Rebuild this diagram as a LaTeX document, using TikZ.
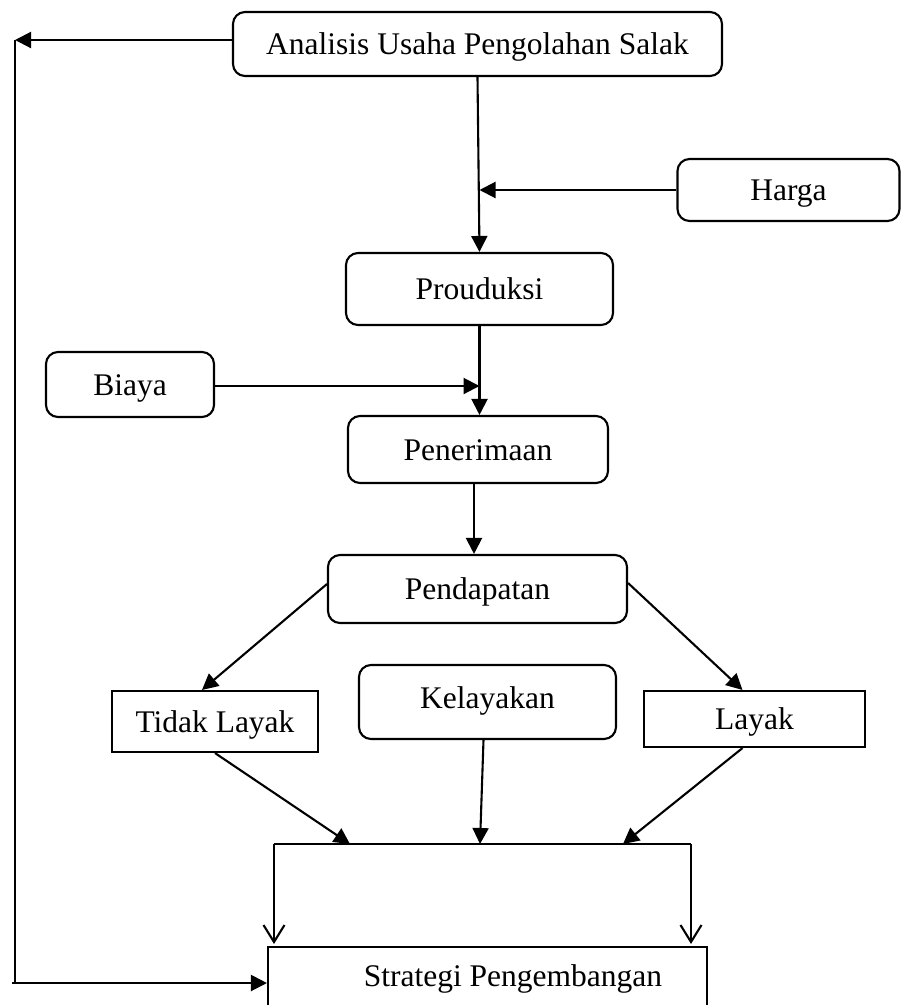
\documentclass[tikz,border=0pt]{standalone}
\usepackage{fontspec}
\setmainfont{Liberation Serif}
\usetikzlibrary{arrows.meta}
\begin{document}
\begin{tikzpicture}[x=1pt,y=-1pt,
  every node/.style={font=\fontsize{31.5}{36}\selectfont, inner sep=0pt, text height=21pt, text depth=0pt},
  rbox/.style={draw, line width=2.1pt, rounded corners=12pt},
  sbox/.style={draw, line width=2.1pt},
  conn/.style={line width=2.1pt},
  arr/.style={conn, -{Triangle[length=16pt,width=16pt]}},
  openarr/.style={conn, -{Straight Barb[length=17pt,width=21pt,line width=2.1pt]}}]
\clip (0,0) rectangle (901,1005);
\fill[white] (0,0) rectangle (901,1005);

\node[rbox, minimum width=489pt, minimum height=64pt] (ana) at (477.5,44) {Analisis Usaha Pengolahan Salak};
\node[rbox, minimum width=222pt, minimum height=62pt] (harga) at (788.5,190) {Harga};
\node[rbox, minimum width=267pt, minimum height=72pt] (prod) at (479.5,289) {Prouduksi};
\node[rbox, minimum width=168pt, minimum height=65pt] (biaya) at (130,384.5) {Biaya};
\node[rbox, minimum width=260pt, minimum height=67pt] (pen) at (478,449.5) {Penerimaan};
\node[rbox, minimum width=299pt, minimum height=68pt] (pend) at (477.5,589) {Pendapatan};
\node[sbox, minimum width=206pt, minimum height=61pt] (tidak) at (215,721.5) {Tidak Layak};
\node[rbox, minimum width=257pt, minimum height=74pt] (kel) at (487.5,702) {\raisebox{4.5pt}{Kelayakan}};
\node[sbox, minimum width=439pt, minimum height=62pt] (strat) at (487.5,978) {\raisebox{2pt}{\hspace*{51pt}Strategi Pengembangan}};
\node[sbox, minimum width=221pt, minimum height=56pt] (layak) at (754.5,719) {Layak};

% left feedback path
\coordinate (tl) at (15,40);
\coordinate (bl) at (15,983);
\coordinate (blx) at (12,983);
\draw[arr] ([yshift=4pt]ana.west) -- (tl);
\draw[conn] (tl) -- (bl);
\draw[arr] (blx) -- (strat.west |- blx);

% main flow
\draw[arr] (ana.south) -- (prod.north);
\draw[arr] (harga.west) -- (harga.west -| prod.north);
\draw[arr] (prod.south) -- (prod.south |- pen.north);
\draw[arr] (biaya.east |- 0,386) -- (prod.south |- 0,386);
\draw[arr] ([xshift=-4pt]pen.south) -- ([xshift=-3.5pt]pend.north);
\draw[arr] ([yshift=5pt]pend.west) -- ([xshift=-13pt]tidak.north);
\draw[arr] ([yshift=6pt]pend.east) -- ([xshift=-12pt]layak.north);

% collector bar
\coordinate (b1) at (274,844);
\coordinate (b2) at (691,844);
\coordinate (t1) at (350,844);
\coordinate (t2) at (480,844);
\coordinate (t3) at (623,844);
\coordinate (d1) at (274,944);
\coordinate (d2) at (691,944);
\draw[conn] (b1) -- (b2);
\draw[arr] (tidak.south) -- (t1);
\draw[arr] ([xshift=-4pt]kel.south) -- (t2);
\draw[arr] ([xshift=-12pt]layak.south) -- (t3);
\draw[openarr] (b1) -- (d1);
\draw[openarr] (b2) -- (d2);
\end{tikzpicture}
\end{document}
